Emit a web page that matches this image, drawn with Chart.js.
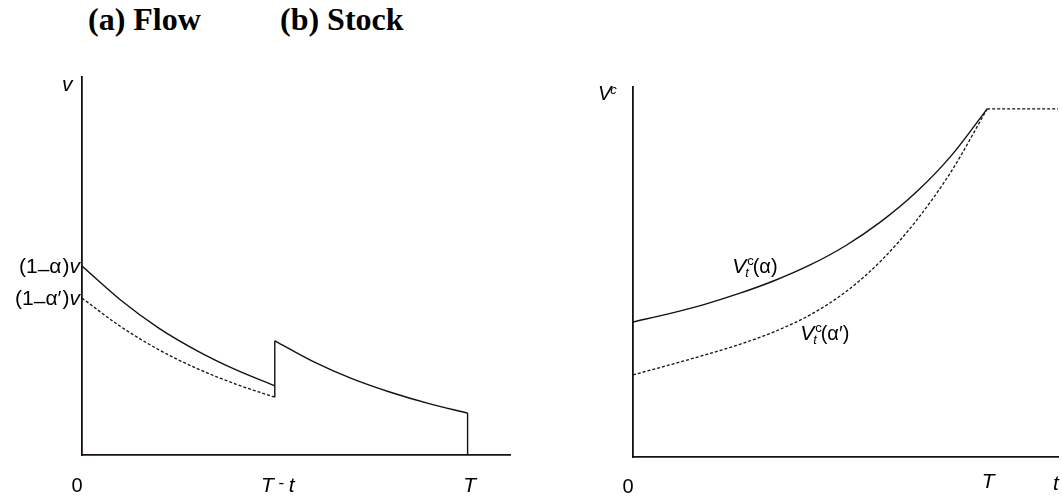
<!DOCTYPE html>
<html>
<head>
<meta charset="utf-8">
<script src="https://cdn.jsdelivr.net/npm/chart.js@4/dist/chart.umd.min.js"></script>
<style>
  html, body { margin: 0; padding: 0; background: #fff; }
  #stage { position: relative; width: 1062px; height: 502px; overflow: hidden; }
  #stage canvas { position: absolute; left: 0; top: 0; }
  .panel-title {
    position: absolute; top: 3px; margin: 0;
    font: bold 32px "Liberation Serif", "Times New Roman", serif;
    line-height: 1; color: #000; white-space: nowrap;
  }
</style>
</head>
<body>
<div id="stage">
  <div class="panel-title" style="left:88px">(a) Flow</div>
  <div class="panel-title" style="left:280px">(b) Stock</div>
  <canvas id="flow" width="1062" height="502"></canvas>
  <canvas id="stock" width="1062" height="502"></canvas>
</div>
<script>
// ---- (a) Flow: value per period, before and after the gap at T - t ----
const flowTimeEarly = [0, 1, 2, 3, 4, 5];
const flowAlpha      = [5.00, 4.10, 3.35, 2.75, 2.25, 1.83];   // (1-α)v path
const flowAlphaPrime = [4.15, 3.40, 2.78, 2.28, 1.87, 1.53];   // (1-α')v path
const flowTimeLate   = [5, 6, 7, 8, 9, 10];
const flowLate       = [3.02, 2.47, 2.02, 1.66, 1.36, 1.11];
const flowTicks      = [0, 5, 10];
const flowTickLabels = ['0', 'T - t', 'T'];

// ---- (b) Stock: accumulated value V_t^c ----
const stockTime       = [0, 1, 2, 3, 4, 5, 6, 7, 8, 9, 10];
const stockAlpha      = [3.65, 3.87, 4.12, 4.42, 4.77, 5.19, 5.71, 6.36, 7.16, 8.16, 9.41];
const stockAlphaPrime = [2.22, 2.48, 2.75, 3.04, 3.39, 3.84, 4.46, 5.30, 6.39, 7.74, 9.41];
const stockPlateauTime = [10, 12];
const stockPlateau     = [9.41, 9.41];
const stockTicks       = [0, 10, 12];
const stockTickLabels  = ['0', 'T', 't'];

const INK = '#111';
const AXIS = '#1c0f0f';
const SANS = '"Liberation Sans", Arial, sans-serif';

const pts = (xs, ys) => xs.map((x, i) => ({ x, y: ys[i] }));

// draws a run of differently styled text pieces starting from an anchor;
// a piece marked `stack` does not advance the pen, so the next piece sits under it
function rich(ctx, parts, x, y, align) {
  const widths = parts.map(p => {
    ctx.font = p.font;
    return ctx.measureText(p.t).width;
  });
  const advances = parts.map((p, i) => {
    if (p.stack) return 0;
    const prev = i > 0 && parts[i - 1].stack ? widths[i - 1] : 0;
    return Math.max(widths[i], prev) + (p.gap || 0);
  });
  const total = advances.reduce((a, b) => a + b, 0);
  let cx = align === 'right' ? x - total : align === 'center' ? x - total / 2 : x;
  ctx.fillStyle = '#000';
  ctx.textBaseline = 'alphabetic';
  ctx.textAlign = 'left';
  parts.forEach((p, i) => {
    ctx.font = p.font;
    ctx.fillText(p.t, cx + (p.dx || 0), y + (p.dy || 0));
    cx += advances[i];
  });
}

const reg = s => s + 'px ' + SANS;
const ital = s => 'italic ' + s + 'px ' + SANS;

const annotate = {
  id: 'annotate',
  afterDraw(chart, args, opts) {
    const ctx = chart.ctx;
    const xs = chart.scales.x, ys = chart.scales.y;
    ctx.save();
    opts.items.forEach(it => {
      const px = xs.getPixelForValue(it.x) + (it.ox || 0);
      const py = it.py !== undefined ? it.py : ys.getPixelForValue(it.y) + (it.oy || 0);
      rich(ctx, it.parts, px, py, it.align || 'left');
    });
    ctx.restore();
  }
};

function axisScale(max, horizontal) {
  return {
    type: 'linear', min: 0, max,
    grid: { display: false, drawTicks: false },
    ticks: { display: false },
    border: { display: true, color: AXIS, width: 1.8 },
    afterFit(s) { if (horizontal) s.height = 0; else s.width = 0; }
  };
}

function lineSet(data, dashed) {
  return {
    data,
    borderColor: INK,
    borderWidth: dashed ? 1.3 : 1.4,
    borderDash: dashed ? [3, 2] : [],
    pointRadius: 0,
    fill: false,
    cubicInterpolationMode: 'monotone'
  };
}

function baseOptions(padding, xMax, yMax, items) {
  return {
    responsive: false,
    animation: false,
    devicePixelRatio: 1,
    layout: { padding },
    scales: { x: axisScale(xMax, true), y: axisScale(yMax, false) },
    plugins: { legend: { display: false }, tooltip: { enabled: false }, annotate: { items } }
  };
}

const oneMinus = prime => [
  { t: '(1', font: reg(21) },
  { t: '–', font: reg(21), dy: 3 },
  { t: prime ? 'α′' : 'α', font: reg(21), gap: 1 },
  { t: ')', font: reg(21) },
  { t: 'v', font: ital(21) }
];

const vtc = tail => [
  { t: 'V', font: ital(21) },
  { t: 'c', font: reg(13), dy: -8, dx: 1, stack: true },
  { t: 't', font: ital(13), dy: 4, dx: -1 },
  { t: tail, font: reg(20), gap: 1 }
];

// ---------------- (a) Flow ----------------
const flowLabels = [
  { x: 0, y: flowAlpha[0], ox: -2, oy: 7, align: 'right', parts: oneMinus(false) },
  { x: 0, y: flowAlphaPrime[0], ox: -2, oy: 7, align: 'right', parts: oneMinus(true) },
  { x: 0, y: 10, ox: -20, oy: 14, align: 'left', parts: [{ t: 'v', font: ital(21) }] },
  { x: flowTicks[0], ox: -5, py: 492, align: 'center', parts: [{ t: flowTickLabels[0], font: reg(20) }] },
  { x: flowTicks[1], ox: 3, py: 492, align: 'center',
    parts: [{ t: 'T', font: ital(21) }, { t: ' - ', font: reg(17), dy: -4 }, { t: 't', font: ital(21) }] },
  { x: flowTicks[2], ox: 2, py: 492, align: 'center', parts: [{ t: flowTickLabels[2], font: ital(21) }] }
];

new Chart(document.getElementById('flow'), {
  type: 'line',
  data: {
    datasets: [
      lineSet(pts(flowTimeEarly, flowAlpha), false),
      lineSet(pts(flowTimeEarly, flowAlphaPrime), true),
      lineSet(pts([5, 5], [flowAlphaPrime[5], flowLate[0]]), false),
      lineSet(pts(flowTimeLate, flowLate), false),
      lineSet(pts([10, 10], [flowLate[5], 0]), false)
    ]
  },
  options: baseOptions({ left: 82, right: 552, top: 77, bottom: 47 }, 11.1, 10, flowLabels),
  plugins: [annotate]
});

// ---------------- (b) Stock ----------------
const stockLabels = [
  { x: 0, y: 10, ox: -35, oy: 13, align: 'left',
    parts: [{ t: 'V', font: ital(20), gap: -1 }, { t: 'c', font: ital(13), dy: -6 }] },
  { x: 2.8, y: 4.97, align: 'left', parts: vtc('(α)') },
  { x: 4.72, y: 3.16, align: 'left', parts: vtc('(α′)') },
  { x: stockTicks[0], ox: -5, py: 493, align: 'center', parts: [{ t: stockTickLabels[0], font: reg(20) }] },
  { x: stockTicks[1], ox: 1, py: 488, align: 'center', parts: [{ t: stockTickLabels[1], font: ital(21) }] },
  { x: stockTicks[2], ox: -2, py: 490, align: 'center', parts: [{ t: stockTickLabels[2], font: ital(21) }] }
];

new Chart(document.getElementById('stock'), {
  type: 'line',
  data: {
    datasets: [
      lineSet(pts(stockTime, stockAlpha), false),
      lineSet(pts(stockTime, stockAlphaPrime), true),
      lineSet(pts(stockPlateauTime, stockPlateau), true)
    ]
  },
  options: baseOptions({ left: 633, right: 4, top: 87, bottom: 45 }, 12, 10, stockLabels),
  plugins: [annotate]
});
</script>
</body>
</html>
